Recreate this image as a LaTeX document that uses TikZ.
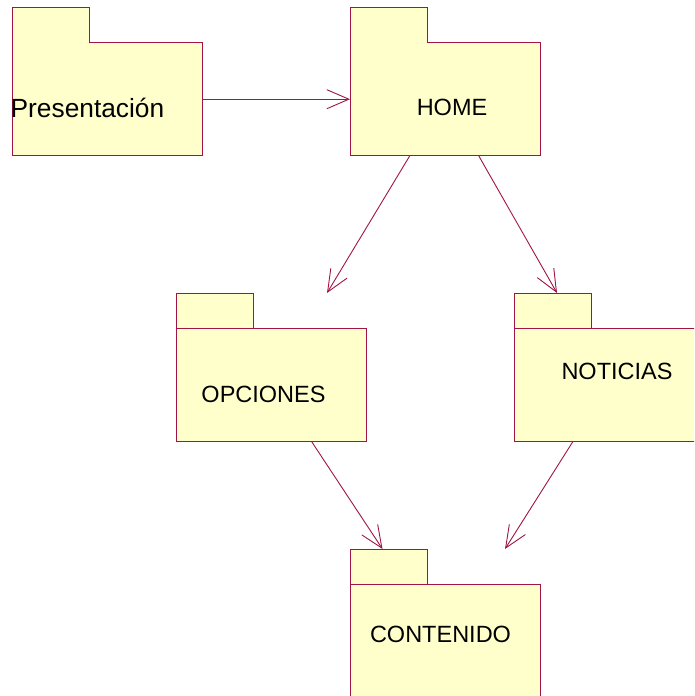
\documentclass[tikz,border=0pt]{standalone}
\usepackage{fontspec}
\setmainfont{Liberation Sans}
\usetikzlibrary{arrows.meta}
\definecolor{pkgline}{RGB}{160,20,70}
\definecolor{pkgfill}{RGB}{255,255,204}
\tikzset{
  pkgbox/.style={rectangle, minimum width=190pt, minimum height=148pt, inner sep=0pt, anchor=north west},
  folder/.style={draw=pkgline, fill=pkgfill, line width=1pt, line join=miter},
  divider/.style={draw=pkgline, line width=1pt},
  dep/.style={draw=pkgline, line width=0.9pt, -{Straight Barb[length=22pt,width=19pt]}},
  lbl/.style={font=\fontsize{23.5pt}{28pt}\selectfont, anchor=base, inner sep=0pt},
}
% folder outline of a package: tab on the upper left, body below
\newcommand\drawfolder[1]{%
  \path[folder] (#1.north west) -- ++(77,0) -- ++(0,35) -| (#1.south east) -- (#1.south west) -- cycle;}
\newcommand\tabline[1]{%
  \draw[divider] ([yshift=-35pt]#1.north west) -- ++(77,0);}
\begin{document}
\begin{tikzpicture}[x=1pt,y=-1pt]
\useasboundingbox (0,0) rectangle (694,696);
\clip (0,0) rectangle (694,696);

% package frames
\node[pkgbox] (pres) at (12,7) {};
\node[pkgbox] (home) at (350,7) {};
\node[pkgbox] (opciones) at (176,293) {};
\node[pkgbox] (noticias) at (514,293) {};
\node[pkgbox] (contenido) at (350,549) {};

\drawfolder{pres}
\drawfolder{home}
\drawfolder{opciones} \tabline{opciones}
\drawfolder{noticias} \tabline{noticias}
\drawfolder{contenido} \tabline{contenido}

% package names
\node[lbl, anchor=base west, font=\fontsize{26.3pt}{31pt}\selectfont] (pres-name) at (10.5,117) {Presentación};
\node[lbl] (home-name) at (452,115) {HOME};
\node[lbl] (opciones-name) at (263.5,402.5) {OPCIONES};
\node[lbl] (noticias-name) at (617,379) {NOTICIAS};
\node[lbl] (contenido-name) at (440.5,642.5) {CONTENIDO};

% dependencies
\draw[dep] ([yshift=-18pt]pres.east) -- ([yshift=-18pt]home.west);
\draw[dep] ([xshift=60pt]home.south west) -- ([xshift=151pt]opciones.north west);
\draw[dep] ([xshift=128.5pt]home.south west) -- ([xshift=43pt]noticias.north west);
\draw[dep] ([xshift=135.5pt]opciones.south west) -- ([xshift=32.5pt]contenido.north west);
\draw[dep] ([xshift=59pt]noticias.south west) -- ([xshift=155pt]contenido.north west);
\end{tikzpicture}
\end{document}
